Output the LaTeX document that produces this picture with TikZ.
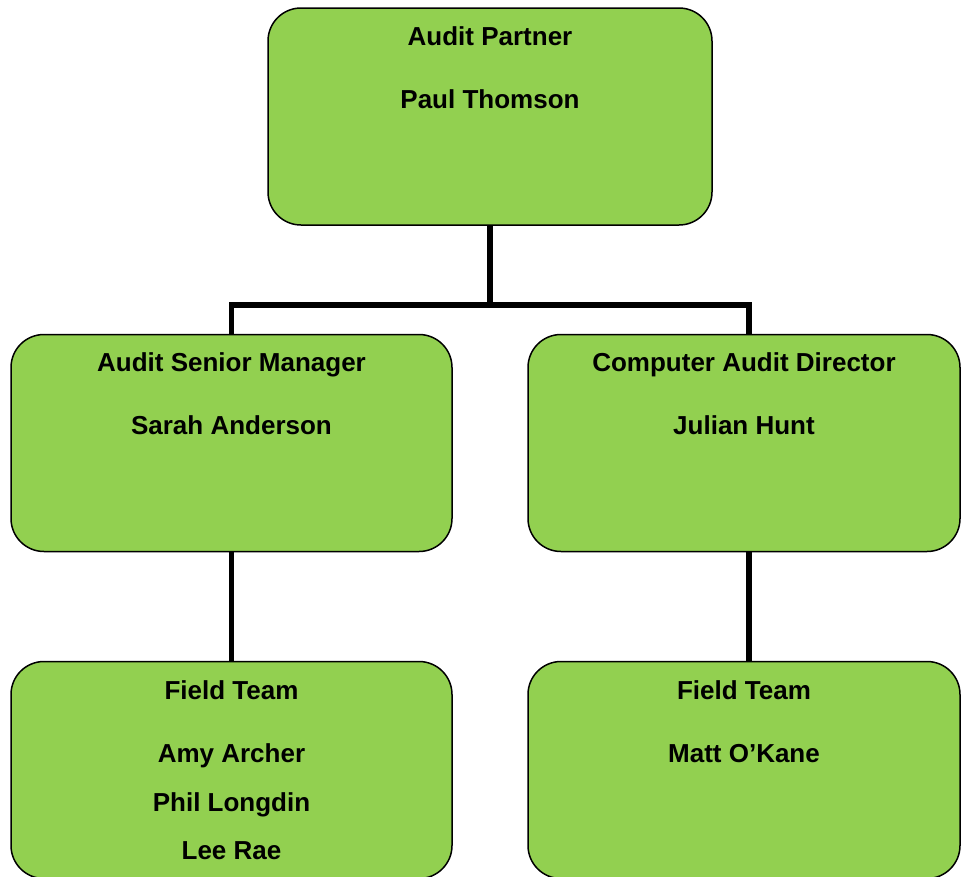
\documentclass[tikz,border=0pt]{standalone}
\usepackage{fontspec}
\setmainfont{Liberation Sans}
\usetikzlibrary{positioning}
\definecolor{leafgreen}{HTML}{92D050}
\tikzset{
  orgbox/.style={draw=black,fill=leafgreen,line width=1.5pt,rounded corners=33pt,
    inner sep=0pt,outer sep=0pt,minimum height=217pt},
  orgtext/.style={anchor=base,inner sep=0pt,font=\fontsize{26}{31}\selectfont\bfseries},
  orglink/.style={draw=black,line width=5.5pt,line join=miter}
}
\begin{document}
\begin{tikzpicture}[x=1pt,y=-1pt]
\useasboundingbox (0,0) rectangle (961,876);
% boxes
\node[orgbox,minimum width=444pt] (ap) at (490,116.5) {};
\node[orgbox,minimum width=441pt] (sm) at (231.5,443) {};
\node[orgbox,minimum width=432pt] (cd) at (744,443) {};
\node[orgbox,minimum width=441pt] (ftl) at (231.5,770) {};
\node[orgbox,minimum width=432pt] (ftr) at (744,770) {};
% texts
\node[orgtext] (apRole) at ([yshift=-37pt]ap.north) {Audit Partner};
\node[orgtext] (apName) at ([yshift=-100pt]ap.north) {Paul Thomson};
\node[orgtext] (smRole) at ([yshift=-37pt]sm.north) {Audit Senior Manager};
\node[orgtext] (smName) at ([yshift=-100pt]sm.north) {Sarah Anderson};
\node[orgtext] (cdRole) at ([yshift=-37pt]cd.north) {Computer Audit Director};
\node[orgtext] (cdName) at ([yshift=-100pt]cd.north) {Julian Hunt};
\node[orgtext] (ftlRole) at ([yshift=-38pt]ftl.north) {Field Team};
\node[orgtext] (ftlA) at ([yshift=-101pt]ftl.north) {Amy Archer};
\node[orgtext] (ftlB) at ([yshift=-150pt]ftl.north) {Phil Longdin};
\node[orgtext] (ftlC) at ([yshift=-198pt]ftl.north) {Lee Rae};
\node[orgtext] (ftrRole) at ([yshift=-38pt]ftr.north) {Field Team};
\node[orgtext] (ftrA) at ([yshift=-101pt]ftr.north) {Matt O’Kane};
% connectors
\coordinate (split) at (490,305);
\draw[orglink] (ap.south) -- (split);
\draw[orglink] (sm.north) |- (split) -| ([xshift=5pt]cd.north);
\draw[orglink] (sm.south) -- (ftl.north);
\draw[orglink] ([xshift=5pt]cd.south) -- ([xshift=5pt]ftr.north);
\end{tikzpicture}
\end{document}
